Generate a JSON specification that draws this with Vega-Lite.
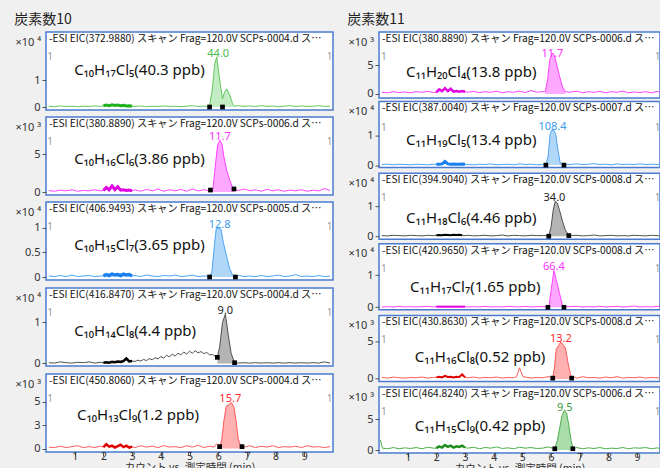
{
"$schema": "https://vega.github.io/schema/vega-lite/v6.json",
"padding": {"left": 14, "top": 13, "right": 0, "bottom": 0},
"background": "#f0f0f0",
"datasets": {
"tr": [
{"p":1,"t":0.1,"v":0.03},{"p":1,"t":0.3,"v":0.01},{"p":1,"t":0.5,"v":0.04},{"p":1,"t":0.7,"v":0.02},{"p":1,"t":0.9,"v":0.03},{"p":1,"t":1.1,"v":0.01},{"p":1,"t":1.3,"v":0.03},{"p":1,"t":1.5,"v":0.02},{"p":1,"t":1.7,"v":0.04},{"p":1,"t":1.9,"v":0.02},{"p":1,"t":2.0,"v":0.05},{"p":1,"t":2.1,"v":0.07},{"p":1,"t":2.2,"v":0.05},{"p":1,"t":2.3,"v":0.08},{"p":1,"t":2.4,"v":0.06},{"p":1,"t":2.5,"v":0.07},{"p":1,"t":2.6,"v":0.05},{"p":1,"t":2.7,"v":0.06},{"p":1,"t":2.8,"v":0.04},{"p":1,"t":2.9,"v":0.05},{"p":1,"t":3.0,"v":0.03},{"p":1,"t":3.1,"v":0.02},{"p":1,"t":3.3,"v":0.04},{"p":1,"t":3.5,"v":0.01},{"p":1,"t":3.7,"v":0.03},{"p":1,"t":3.9,"v":0.02},{"p":1,"t":4.1,"v":0.04},{"p":1,"t":4.3,"v":0.02},{"p":1,"t":4.5,"v":0.03},{"p":1,"t":4.7,"v":0.01},{"p":1,"t":4.9,"v":0.03},{"p":1,"t":5.1,"v":0.05},{"p":1,"t":5.3,"v":0.02},{"p":1,"t":5.5,"v":0.03},
{"p":1,"t":5.6,"v":0.02},{"p":1,"t":5.7,"v":0.04,"k":1},{"p":1,"t":5.8,"v":0.7,"k":1},{"p":1,"t":5.88,"v":1.6,"k":1},{"p":1,"t":5.95,"v":1.85,"k":1},{"p":1,"t":6.05,"v":1.0,"k":1},{"p":1,"t":6.15,"v":0.3,"k":1},{"p":1,"t":6.22,"v":0.55,"k":1},{"p":1,"t":6.3,"v":0.67,"k":1},{"p":1,"t":6.4,"v":0.45,"k":1},{"p":1,"t":6.5,"v":0.12,"k":1},{"p":1,"t":6.56,"v":0.03,"k":1},{"p":1,"t":6.7,"v":0.05},
{"p":1,"t":6.9,"v":0.02},{"p":1,"t":7.1,"v":0.04},{"p":1,"t":7.3,"v":0.02},{"p":1,"t":7.5,"v":0.05},{"p":1,"t":7.7,"v":0.02},{"p":1,"t":7.9,"v":0.04},{"p":1,"t":8.1,"v":0.01},{"p":1,"t":8.3,"v":0.03},{"p":1,"t":8.5,"v":0.05},{"p":1,"t":8.7,"v":0.02},{"p":1,"t":8.9,"v":0.04},{"p":1,"t":9.1,"v":0.02},{"p":1,"t":9.3,"v":0.03},{"p":1,"t":9.5,"v":0.05},{"p":1,"t":9.7,"v":0.02},{"p":1,"t":9.9,"v":0.03},

{"p":2,"t":0.1,"v":0.2},{"p":2,"t":0.3,"v":0.1},{"p":2,"t":0.5,"v":0.25},{"p":2,"t":0.7,"v":0.15},{"p":2,"t":0.9,"v":0.3},{"p":2,"t":1.1,"v":0.1},{"p":2,"t":1.3,"v":0.2},{"p":2,"t":1.5,"v":0.15},{"p":2,"t":1.7,"v":0.3},{"p":2,"t":1.9,"v":0.15},{"p":2,"t":2.0,"v":0.2},{"p":2,"t":2.1,"v":0.6},{"p":2,"t":2.2,"v":0.3},{"p":2,"t":2.3,"v":0.8},{"p":2,"t":2.4,"v":0.3},{"p":2,"t":2.5,"v":0.7},{"p":2,"t":2.6,"v":0.25},{"p":2,"t":2.7,"v":0.3},{"p":2,"t":2.8,"v":0.2},{"p":2,"t":2.9,"v":0.25},{"p":2,"t":3.0,"v":0.15},{"p":2,"t":3.1,"v":0.3},{"p":2,"t":3.3,"v":0.1},{"p":2,"t":3.5,"v":0.35},{"p":2,"t":3.7,"v":0.15},{"p":2,"t":3.9,"v":0.4},{"p":2,"t":4.1,"v":0.1},{"p":2,"t":4.3,"v":0.3},{"p":2,"t":4.5,"v":0.15},{"p":2,"t":4.7,"v":0.35},{"p":2,"t":4.9,"v":0.1},{"p":2,"t":5.1,"v":0.4},{"p":2,"t":5.3,"v":0.15},{"p":2,"t":5.5,"v":0.3},
{"p":2,"t":5.65,"v":0.2},{"p":2,"t":5.73,"v":0.2,"k":1},{"p":2,"t":5.82,"v":0.5,"k":1},{"p":2,"t":5.9,"v":3.5,"k":1},{"p":2,"t":5.98,"v":6.2,"k":1},{"p":2,"t":6.06,"v":6.8,"k":1},{"p":2,"t":6.13,"v":6.3,"k":1},{"p":2,"t":6.2,"v":4.6,"k":1},{"p":2,"t":6.3,"v":2.8,"k":1},{"p":2,"t":6.4,"v":1.6,"k":1},{"p":2,"t":6.48,"v":0.8,"k":1},{"p":2,"t":6.55,"v":0.35,"k":1},{"p":2,"t":6.7,"v":0.2},
{"p":2,"t":6.9,"v":0.4},{"p":2,"t":7.1,"v":0.15},{"p":2,"t":7.3,"v":0.3},{"p":2,"t":7.5,"v":0.1},{"p":2,"t":7.7,"v":0.35},{"p":2,"t":7.9,"v":0.15},{"p":2,"t":8.1,"v":0.3},{"p":2,"t":8.3,"v":0.1},{"p":2,"t":8.5,"v":0.25},{"p":2,"t":8.7,"v":0.15},{"p":2,"t":8.9,"v":0.3},{"p":2,"t":9.1,"v":0.1},{"p":2,"t":9.3,"v":0.25},{"p":2,"t":9.5,"v":0.15},{"p":2,"t":9.7,"v":0.45},{"p":2,"t":9.9,"v":0.2},

{"p":3,"t":0.1,"v":0.02},{"p":3,"t":0.3,"v":0.01},{"p":3,"t":0.5,"v":0.03},{"p":3,"t":0.7,"v":0.01},{"p":3,"t":0.9,"v":0.04},{"p":3,"t":1.1,"v":0.01},{"p":3,"t":1.3,"v":0.02},{"p":3,"t":1.5,"v":0.03},{"p":3,"t":1.7,"v":0.01},{"p":3,"t":1.9,"v":0.02},{"p":3,"t":2.0,"v":0.02},{"p":3,"t":2.1,"v":0.05},{"p":3,"t":2.2,"v":0.03},{"p":3,"t":2.3,"v":0.06},{"p":3,"t":2.4,"v":0.04},{"p":3,"t":2.5,"v":0.05},{"p":3,"t":2.6,"v":0.03},{"p":3,"t":2.7,"v":0.06},{"p":3,"t":2.8,"v":0.04},{"p":3,"t":2.9,"v":0.05},{"p":3,"t":3.0,"v":0.02},{"p":3,"t":3.1,"v":0.03},{"p":3,"t":3.3,"v":0.01},{"p":3,"t":3.5,"v":0.04},{"p":3,"t":3.7,"v":0.02},{"p":3,"t":3.9,"v":0.01},{"p":3,"t":4.1,"v":0.03},{"p":3,"t":4.3,"v":0.02},{"p":3,"t":4.5,"v":0.04},{"p":3,"t":4.7,"v":0.01},{"p":3,"t":4.9,"v":0.02},{"p":3,"t":5.1,"v":0.04},{"p":3,"t":5.3,"v":0.01},{"p":3,"t":5.5,"v":0.02},
{"p":3,"t":5.62,"v":0.02},{"p":3,"t":5.7,"v":0.02,"k":1},{"p":3,"t":5.78,"v":0.1,"k":1},{"p":3,"t":5.86,"v":0.6,"k":1},{"p":3,"t":5.93,"v":0.98,"k":1},{"p":3,"t":6.0,"v":1.0,"k":1},{"p":3,"t":6.1,"v":0.97,"k":1},{"p":3,"t":6.18,"v":0.7,"k":1},{"p":3,"t":6.28,"v":0.45,"k":1},{"p":3,"t":6.4,"v":0.17,"k":1},{"p":3,"t":6.5,"v":0.04,"k":1},{"p":3,"t":6.6,"v":0.02,"k":1},{"p":3,"t":6.75,"v":0.03},
{"p":3,"t":6.9,"v":0.01},{"p":3,"t":7.1,"v":0.02},{"p":3,"t":7.3,"v":0.01},{"p":3,"t":7.5,"v":0.03},{"p":3,"t":7.7,"v":0.01},{"p":3,"t":7.9,"v":0.02},{"p":3,"t":8.1,"v":0.04},{"p":3,"t":8.3,"v":0.01},{"p":3,"t":8.5,"v":0.02},{"p":3,"t":8.7,"v":0.05},{"p":3,"t":8.9,"v":0.01},{"p":3,"t":9.1,"v":0.02},{"p":3,"t":9.3,"v":0.01},{"p":3,"t":9.5,"v":0.03},{"p":3,"t":9.7,"v":0.01},{"p":3,"t":9.9,"v":0.02},

{"p":4,"t":0.1,"v":0.02},{"p":4,"t":0.3,"v":0.01},{"p":4,"t":0.5,"v":0.04},{"p":4,"t":0.7,"v":0.02},{"p":4,"t":0.9,"v":0.01},{"p":4,"t":1.1,"v":0.03},{"p":4,"t":1.3,"v":0.02},{"p":4,"t":1.5,"v":0.04},{"p":4,"t":1.7,"v":0.01},{"p":4,"t":1.9,"v":0.03},{"p":4,"t":2.0,"v":0.02},{"p":4,"t":2.1,"v":0.03},{"p":4,"t":2.2,"v":0.02},{"p":4,"t":2.3,"v":0.04},{"p":4,"t":2.4,"v":0.03},{"p":4,"t":2.5,"v":0.05},{"p":4,"t":2.6,"v":0.04},{"p":4,"t":2.7,"v":0.06},{"p":4,"t":2.8,"v":0.12},{"p":4,"t":2.9,"v":0.05},{"p":4,"t":3.0,"v":0.06},
{"p":4,"t":3.1,"v":0.05},{"p":4,"t":3.2,"v":0.08},{"p":4,"t":3.3,"v":0.06},{"p":4,"t":3.4,"v":0.1},{"p":4,"t":3.5,"v":0.07},{"p":4,"t":3.6,"v":0.12},{"p":4,"t":3.7,"v":0.09},{"p":4,"t":3.8,"v":0.14},{"p":4,"t":3.9,"v":0.11},{"p":4,"t":4.0,"v":0.17},{"p":4,"t":4.1,"v":0.13},{"p":4,"t":4.2,"v":0.2},{"p":4,"t":4.3,"v":0.16},{"p":4,"t":4.4,"v":0.23},{"p":4,"t":4.5,"v":0.18},{"p":4,"t":4.6,"v":0.25},{"p":4,"t":4.7,"v":0.21},{"p":4,"t":4.8,"v":0.28},{"p":4,"t":4.9,"v":0.23},{"p":4,"t":5.0,"v":0.3},{"p":4,"t":5.1,"v":0.25},{"p":4,"t":5.2,"v":0.31},{"p":4,"t":5.3,"v":0.26},{"p":4,"t":5.4,"v":0.29},{"p":4,"t":5.5,"v":0.24},{"p":4,"t":5.6,"v":0.27},{"p":4,"t":5.7,"v":0.21},{"p":4,"t":5.8,"v":0.22},{"p":4,"t":5.9,"v":0.17},
{"p":4,"t":5.97,"v":0.15,"k":1},{"p":4,"t":6.05,"v":0.4,"k":1},{"p":4,"t":6.15,"v":1.0,"k":1},{"p":4,"t":6.25,"v":1.2,"k":1},{"p":4,"t":6.35,"v":0.7,"k":1},{"p":4,"t":6.45,"v":0.25,"k":1},{"p":4,"t":6.57,"v":0.02,"k":1},{"p":4,"t":6.7,"v":0.01},
{"p":4,"t":6.9,"v":0.02},{"p":4,"t":7.1,"v":0.01},{"p":4,"t":7.3,"v":0.02},{"p":4,"t":7.5,"v":0.01},{"p":4,"t":7.7,"v":0.02},{"p":4,"t":7.9,"v":0.01},{"p":4,"t":8.1,"v":0.02},{"p":4,"t":8.3,"v":0.01},{"p":4,"t":8.5,"v":0.02},{"p":4,"t":8.7,"v":0.01},{"p":4,"t":8.9,"v":0.02},{"p":4,"t":9.1,"v":0.01},{"p":4,"t":9.3,"v":0.02},{"p":4,"t":9.5,"v":0.01},{"p":4,"t":9.7,"v":0.04},{"p":4,"t":9.9,"v":0.01},

{"p":5,"t":0.1,"v":0.15},{"p":5,"t":0.3,"v":0.1},{"p":5,"t":0.5,"v":0.25},{"p":5,"t":0.7,"v":0.1},{"p":5,"t":0.9,"v":0.2},{"p":5,"t":1.1,"v":0.3},{"p":5,"t":1.3,"v":0.1},{"p":5,"t":1.5,"v":0.2},{"p":5,"t":1.7,"v":0.1},{"p":5,"t":1.9,"v":0.25},{"p":5,"t":2.0,"v":0.15},{"p":5,"t":2.1,"v":0.45},{"p":5,"t":2.2,"v":0.2},{"p":5,"t":2.3,"v":0.3},{"p":5,"t":2.4,"v":0.1},{"p":5,"t":2.5,"v":0.25},{"p":5,"t":2.6,"v":0.4},{"p":5,"t":2.7,"v":0.15},{"p":5,"t":2.8,"v":0.3},{"p":5,"t":2.9,"v":0.1},{"p":5,"t":3.0,"v":0.2},{"p":5,"t":3.1,"v":0.1},{"p":5,"t":3.3,"v":0.3},{"p":5,"t":3.5,"v":0.15},{"p":5,"t":3.7,"v":0.25},{"p":5,"t":3.9,"v":0.1},{"p":5,"t":4.1,"v":0.3},{"p":5,"t":4.3,"v":0.15},{"p":5,"t":4.5,"v":0.2},{"p":5,"t":4.7,"v":0.1},{"p":5,"t":4.9,"v":0.3},{"p":5,"t":5.1,"v":0.15},{"p":5,"t":5.3,"v":0.35},{"p":5,"t":5.5,"v":0.1},
{"p":5,"t":5.7,"v":0.25},{"p":5,"t":5.85,"v":0.15},{"p":5,"t":5.95,"v":0.5},{"p":5,"t":6.05,"v":0.2,"k":1},{"p":5,"t":6.12,"v":0.8,"k":1},{"p":5,"t":6.2,"v":3.0,"k":1},{"p":5,"t":6.28,"v":4.5,"k":1},{"p":5,"t":6.38,"v":4.7,"k":1},{"p":5,"t":6.46,"v":4.9,"k":1},{"p":5,"t":6.55,"v":4.4,"k":1},{"p":5,"t":6.62,"v":3.0,"k":1},{"p":5,"t":6.7,"v":1.0,"k":1},{"p":5,"t":6.78,"v":0.3,"k":1},{"p":5,"t":6.83,"v":0.2,"k":1},
{"p":5,"t":6.9,"v":0.15},{"p":5,"t":7.1,"v":0.3},{"p":5,"t":7.3,"v":0.1},{"p":5,"t":7.5,"v":0.25},{"p":5,"t":7.7,"v":0.15},{"p":5,"t":7.9,"v":0.3},{"p":5,"t":8.1,"v":0.1},{"p":5,"t":8.3,"v":0.2},{"p":5,"t":8.5,"v":0.15},{"p":5,"t":8.7,"v":0.25},{"p":5,"t":8.9,"v":0.1},{"p":5,"t":9.1,"v":0.3},{"p":5,"t":9.3,"v":0.15},{"p":5,"t":9.5,"v":0.2},{"p":5,"t":9.7,"v":0.1},{"p":5,"t":9.9,"v":0.2},

{"p":6,"t":0.1,"v":0.3},{"p":6,"t":0.3,"v":0.2},{"p":6,"t":0.5,"v":0.4},{"p":6,"t":0.7,"v":0.25},{"p":6,"t":0.9,"v":0.35},{"p":6,"t":1.1,"v":0.2},{"p":6,"t":1.3,"v":0.4},{"p":6,"t":1.5,"v":0.3},{"p":6,"t":1.7,"v":0.45},{"p":6,"t":1.9,"v":0.25},{"p":6,"t":2.0,"v":0.3},{"p":6,"t":2.1,"v":0.8},{"p":6,"t":2.2,"v":0.5},{"p":6,"t":2.3,"v":1.0},{"p":6,"t":2.4,"v":0.5},{"p":6,"t":2.5,"v":0.9},{"p":6,"t":2.6,"v":0.4},{"p":6,"t":2.7,"v":0.5},{"p":6,"t":2.8,"v":0.4},{"p":6,"t":2.9,"v":0.5},{"p":6,"t":3.0,"v":0.4},{"p":6,"t":3.1,"v":0.3},{"p":6,"t":3.3,"v":0.45},{"p":6,"t":3.5,"v":0.25},{"p":6,"t":3.7,"v":0.4},{"p":6,"t":3.9,"v":0.3},{"p":6,"t":4.1,"v":0.5},{"p":6,"t":4.3,"v":0.2},{"p":6,"t":4.5,"v":0.4},{"p":6,"t":4.7,"v":0.3},{"p":6,"t":4.9,"v":0.5},{"p":6,"t":5.1,"v":0.25},{"p":6,"t":5.3,"v":0.6},{"p":6,"t":5.5,"v":0.3},
{"p":6,"t":5.65,"v":0.4},{"p":6,"t":5.8,"v":0.4,"k":1},{"p":6,"t":5.88,"v":2.5,"k":1},{"p":6,"t":5.96,"v":6.0,"k":1},{"p":6,"t":6.05,"v":7.1,"k":1},{"p":6,"t":6.12,"v":6.6,"k":1},{"p":6,"t":6.2,"v":5.0,"k":1},{"p":6,"t":6.3,"v":3.0,"k":1},{"p":6,"t":6.4,"v":1.2,"k":1},{"p":6,"t":6.5,"v":0.4,"k":1},{"p":6,"t":6.65,"v":0.3},
{"p":6,"t":6.9,"v":0.5},{"p":6,"t":7.1,"v":0.2},{"p":6,"t":7.3,"v":0.4},{"p":6,"t":7.5,"v":0.3},{"p":6,"t":7.7,"v":0.45},{"p":6,"t":7.9,"v":0.2},{"p":6,"t":8.1,"v":0.4},{"p":6,"t":8.3,"v":0.3},{"p":6,"t":8.5,"v":0.5},{"p":6,"t":8.7,"v":0.2},{"p":6,"t":8.9,"v":0.35},{"p":6,"t":9.1,"v":0.25},{"p":6,"t":9.3,"v":0.4},{"p":6,"t":9.5,"v":0.2},{"p":6,"t":9.7,"v":0.45},{"p":6,"t":9.8,"v":0.3},

{"p":7,"t":0.1,"v":0.02},{"p":7,"t":0.3,"v":0.03},{"p":7,"t":0.5,"v":0.01},{"p":7,"t":0.7,"v":0.03},{"p":7,"t":0.9,"v":0.02},{"p":7,"t":1.1,"v":0.01},{"p":7,"t":1.3,"v":0.03},{"p":7,"t":1.5,"v":0.02},{"p":7,"t":1.7,"v":0.01},{"p":7,"t":1.9,"v":0.03},{"p":7,"t":2.0,"v":0.03},{"p":7,"t":2.1,"v":0.03},{"p":7,"t":2.2,"v":0.04},{"p":7,"t":2.3,"v":0.12},{"p":7,"t":2.4,"v":0.04},{"p":7,"t":2.5,"v":0.03},{"p":7,"t":2.6,"v":0.04},{"p":7,"t":2.7,"v":0.03},{"p":7,"t":2.8,"v":0.03},{"p":7,"t":2.9,"v":0.04},{"p":7,"t":3.0,"v":0.03},{"p":7,"t":3.1,"v":0.02},{"p":7,"t":3.3,"v":0.01},{"p":7,"t":3.5,"v":0.03},{"p":7,"t":3.7,"v":0.02},{"p":7,"t":3.9,"v":0.04},{"p":7,"t":4.1,"v":0.01},{"p":7,"t":4.3,"v":0.02},{"p":7,"t":4.5,"v":0.03},{"p":7,"t":4.7,"v":0.01},{"p":7,"t":4.9,"v":0.04},{"p":7,"t":5.1,"v":0.02},{"p":7,"t":5.3,"v":0.03},{"p":7,"t":5.5,"v":0.01},
{"p":7,"t":5.7,"v":0.02},{"p":7,"t":5.82,"v":0.03,"k":1},{"p":7,"t":5.9,"v":0.3,"k":1},{"p":7,"t":5.97,"v":1.05,"k":1},{"p":7,"t":6.03,"v":1.17,"k":1},{"p":7,"t":6.1,"v":1.15,"k":1},{"p":7,"t":6.16,"v":1.05,"k":1},{"p":7,"t":6.24,"v":0.5,"k":1},{"p":7,"t":6.32,"v":0.08,"k":1},{"p":7,"t":6.45,"v":0.03,"k":1},{"p":7,"t":6.6,"v":0.02},
{"p":7,"t":6.9,"v":0.04},{"p":7,"t":7.1,"v":0.02},{"p":7,"t":7.3,"v":0.03},{"p":7,"t":7.5,"v":0.05},{"p":7,"t":7.7,"v":0.02},{"p":7,"t":7.9,"v":0.03},{"p":7,"t":8.1,"v":0.01},{"p":7,"t":8.3,"v":0.04},{"p":7,"t":8.5,"v":0.02},{"p":7,"t":8.7,"v":0.03},{"p":7,"t":8.9,"v":0.02},{"p":7,"t":9.1,"v":0.04},{"p":7,"t":9.3,"v":0.02},{"p":7,"t":9.5,"v":0.03},{"p":7,"t":9.7,"v":0.02},{"p":7,"t":9.8,"v":0.03},

{"p":8,"t":0.1,"v":0.02},{"p":8,"t":0.3,"v":0.01},{"p":8,"t":0.5,"v":0.03},{"p":8,"t":0.7,"v":0.02},{"p":8,"t":0.9,"v":0.01},{"p":8,"t":1.1,"v":0.03},{"p":8,"t":1.3,"v":0.02},{"p":8,"t":1.5,"v":0.01},{"p":8,"t":1.7,"v":0.03},{"p":8,"t":1.9,"v":0.02},{"p":8,"t":2.0,"v":0.03},{"p":8,"t":2.1,"v":0.04},{"p":8,"t":2.2,"v":0.03},{"p":8,"t":2.3,"v":0.05},{"p":8,"t":2.4,"v":0.04},{"p":8,"t":2.5,"v":0.03},{"p":8,"t":2.6,"v":0.05},{"p":8,"t":2.7,"v":0.04},{"p":8,"t":2.8,"v":0.05},{"p":8,"t":2.9,"v":0.03},{"p":8,"t":3.0,"v":0.02},{"p":8,"t":3.1,"v":0.03},{"p":8,"t":3.3,"v":0.01},{"p":8,"t":3.5,"v":0.02},{"p":8,"t":3.7,"v":0.03},{"p":8,"t":3.9,"v":0.01},{"p":8,"t":4.1,"v":0.02},{"p":8,"t":4.3,"v":0.04},{"p":8,"t":4.5,"v":0.01},{"p":8,"t":4.7,"v":0.03},{"p":8,"t":4.9,"v":0.02},{"p":8,"t":5.1,"v":0.01},{"p":8,"t":5.3,"v":0.03},{"p":8,"t":5.5,"v":0.02},
{"p":8,"t":5.7,"v":0.02},{"p":8,"t":5.92,"v":0.02,"k":1},{"p":8,"t":6.0,"v":0.3,"k":1},{"p":8,"t":6.08,"v":0.9,"k":1},{"p":8,"t":6.15,"v":1.17,"k":1},{"p":8,"t":6.22,"v":1.1,"k":1},{"p":8,"t":6.3,"v":0.85,"k":1},{"p":8,"t":6.4,"v":0.5,"k":1},{"p":8,"t":6.5,"v":0.2,"k":1},{"p":8,"t":6.62,"v":0.03,"k":1},{"p":8,"t":6.75,"v":0.02},
{"p":8,"t":6.9,"v":0.03},{"p":8,"t":7.1,"v":0.01},{"p":8,"t":7.3,"v":0.02},{"p":8,"t":7.5,"v":0.04},{"p":8,"t":7.7,"v":0.01},{"p":8,"t":7.9,"v":0.02},{"p":8,"t":8.1,"v":0.03},{"p":8,"t":8.3,"v":0.01},{"p":8,"t":8.5,"v":0.02},{"p":8,"t":8.7,"v":0.01},{"p":8,"t":8.9,"v":0.03},{"p":8,"t":9.1,"v":0.02},{"p":8,"t":9.3,"v":0.01},{"p":8,"t":9.5,"v":0.03},{"p":8,"t":9.7,"v":0.02},{"p":8,"t":9.8,"v":0.01},

{"p":9,"t":0.1,"v":0.01},{"p":9,"t":0.3,"v":0.02},{"p":9,"t":0.5,"v":0.01},{"p":9,"t":0.7,"v":0.03},{"p":9,"t":0.9,"v":0.01},{"p":9,"t":1.1,"v":0.02},{"p":9,"t":1.3,"v":0.01},{"p":9,"t":1.5,"v":0.02},{"p":9,"t":1.7,"v":0.03},{"p":9,"t":1.9,"v":0.01},{"p":9,"t":2.0,"v":0.02},{"p":9,"t":2.1,"v":0.02},{"p":9,"t":2.2,"v":0.02},{"p":9,"t":2.3,"v":0.02},{"p":9,"t":2.4,"v":0.02},{"p":9,"t":2.5,"v":0.02},{"p":9,"t":2.6,"v":0.02},{"p":9,"t":2.7,"v":0.02},{"p":9,"t":2.8,"v":0.02},{"p":9,"t":2.9,"v":0.02},{"p":9,"t":3.0,"v":0.02},{"p":9,"t":3.1,"v":0.01},{"p":9,"t":3.3,"v":0.02},{"p":9,"t":3.5,"v":0.01},{"p":9,"t":3.7,"v":0.03},{"p":9,"t":3.9,"v":0.01},{"p":9,"t":4.1,"v":0.02},{"p":9,"t":4.3,"v":0.01},{"p":9,"t":4.5,"v":0.03},{"p":9,"t":4.7,"v":0.02},{"p":9,"t":4.9,"v":0.01},{"p":9,"t":5.1,"v":0.03},{"p":9,"t":5.3,"v":0.01},{"p":9,"t":5.5,"v":0.02},
{"p":9,"t":5.7,"v":0.02},{"p":9,"t":5.89,"v":0.02,"k":1},{"p":9,"t":5.93,"v":0.05,"k":1},{"p":9,"t":6.1,"v":1.15,"k":1},{"p":9,"t":6.4,"v":0.05,"k":1},{"p":9,"t":6.45,"v":0.02,"k":1},{"p":9,"t":6.6,"v":0.02},
{"p":9,"t":6.9,"v":0.03},{"p":9,"t":7.1,"v":0.01},{"p":9,"t":7.3,"v":0.02},{"p":9,"t":7.5,"v":0.01},{"p":9,"t":7.7,"v":0.03},{"p":9,"t":7.9,"v":0.01},{"p":9,"t":8.1,"v":0.02},{"p":9,"t":8.3,"v":0.03},{"p":9,"t":8.5,"v":0.01},{"p":9,"t":8.7,"v":0.02},{"p":9,"t":8.9,"v":0.04},{"p":9,"t":9.1,"v":0.01},{"p":9,"t":9.3,"v":0.02},{"p":9,"t":9.5,"v":0.01},{"p":9,"t":9.7,"v":0.03},{"p":9,"t":9.8,"v":0.02},

{"p":10,"t":0.1,"v":0.2},{"p":10,"t":0.3,"v":0.1},{"p":10,"t":0.5,"v":0.25},{"p":10,"t":0.7,"v":0.15},{"p":10,"t":0.9,"v":0.1},{"p":10,"t":1.1,"v":0.2},{"p":10,"t":1.3,"v":0.15},{"p":10,"t":1.5,"v":0.25},{"p":10,"t":1.7,"v":0.1},{"p":10,"t":1.9,"v":0.2},{"p":10,"t":2.0,"v":0.2},{"p":10,"t":2.1,"v":0.3},{"p":10,"t":2.2,"v":0.2},{"p":10,"t":2.3,"v":0.4},{"p":10,"t":2.4,"v":0.25},{"p":10,"t":2.5,"v":0.3},{"p":10,"t":2.6,"v":0.2},{"p":10,"t":2.7,"v":0.3},{"p":10,"t":2.8,"v":0.25},{"p":10,"t":2.9,"v":0.6},{"p":10,"t":3.0,"v":0.2},{"p":10,"t":3.1,"v":0.15},{"p":10,"t":3.3,"v":0.25},{"p":10,"t":3.5,"v":0.1},{"p":10,"t":3.7,"v":0.2},{"p":10,"t":3.9,"v":0.15},{"p":10,"t":4.1,"v":0.25},{"p":10,"t":4.3,"v":0.1},{"p":10,"t":4.5,"v":0.2},{"p":10,"t":4.7,"v":0.15},{"p":10,"t":4.8,"v":0.3},{"p":10,"t":4.86,"v":1.0},{"p":10,"t":4.9,"v":1.5},{"p":10,"t":4.95,"v":1.0},{"p":10,"t":5.02,"v":0.3},{"p":10,"t":5.1,"v":0.25},{"p":10,"t":5.3,"v":0.1},{"p":10,"t":5.5,"v":0.2},
{"p":10,"t":5.7,"v":0.15},{"p":10,"t":5.9,"v":0.3},{"p":10,"t":6.06,"v":0.2,"k":1},{"p":10,"t":6.12,"v":1.5,"k":1},{"p":10,"t":6.18,"v":4.0,"k":1},{"p":10,"t":6.28,"v":4.6,"k":1},{"p":10,"t":6.34,"v":5.0,"k":1},{"p":10,"t":6.42,"v":4.6,"k":1},{"p":10,"t":6.5,"v":4.2,"k":1},{"p":10,"t":6.6,"v":2.0,"k":1},{"p":10,"t":6.68,"v":0.6,"k":1},{"p":10,"t":6.72,"v":0.2,"k":1},{"p":10,"t":6.8,"v":0.25},
{"p":10,"t":6.9,"v":0.1},{"p":10,"t":7.1,"v":0.3},{"p":10,"t":7.3,"v":0.15},{"p":10,"t":7.5,"v":0.2},{"p":10,"t":7.7,"v":0.1},{"p":10,"t":7.9,"v":0.25},{"p":10,"t":8.1,"v":0.15},{"p":10,"t":8.3,"v":0.3},{"p":10,"t":8.5,"v":0.1},{"p":10,"t":8.7,"v":0.2},{"p":10,"t":8.9,"v":0.15},{"p":10,"t":9.1,"v":0.25},{"p":10,"t":9.3,"v":0.1},{"p":10,"t":9.5,"v":0.2},{"p":10,"t":9.7,"v":0.15},{"p":10,"t":9.8,"v":0.1},

{"p":11,"t":0.05,"v":1.6},{"p":11,"t":0.12,"v":0.3},{"p":11,"t":0.3,"v":0.2},{"p":11,"t":0.5,"v":0.4},{"p":11,"t":0.7,"v":0.2},{"p":11,"t":0.9,"v":0.35},{"p":11,"t":1.1,"v":0.25},{"p":11,"t":1.3,"v":0.4},{"p":11,"t":1.5,"v":0.2},{"p":11,"t":1.7,"v":0.45},{"p":11,"t":1.9,"v":0.3},{"p":11,"t":2.0,"v":0.3},{"p":11,"t":2.1,"v":0.6},{"p":11,"t":2.2,"v":0.4},{"p":11,"t":2.3,"v":0.8},{"p":11,"t":2.4,"v":0.5},{"p":11,"t":2.5,"v":0.7},{"p":11,"t":2.6,"v":0.4},{"p":11,"t":2.7,"v":0.6},{"p":11,"t":2.8,"v":0.5},{"p":11,"t":2.9,"v":0.7},{"p":11,"t":3.0,"v":0.4},{"p":11,"t":3.1,"v":0.3},{"p":11,"t":3.3,"v":0.45},{"p":11,"t":3.5,"v":0.2},{"p":11,"t":3.7,"v":0.4},{"p":11,"t":3.9,"v":0.3},{"p":11,"t":4.1,"v":0.5},{"p":11,"t":4.3,"v":0.25},{"p":11,"t":4.5,"v":0.35},{"p":11,"t":4.7,"v":0.2},{"p":11,"t":4.9,"v":0.45},{"p":11,"t":5.1,"v":0.3},{"p":11,"t":5.3,"v":0.4},{"p":11,"t":5.5,"v":0.25},
{"p":11,"t":5.7,"v":0.3},{"p":11,"t":5.9,"v":0.5},{"p":11,"t":6.05,"v":0.3},{"p":11,"t":6.13,"v":0.3,"k":1},{"p":11,"t":6.22,"v":1.5,"k":1},{"p":11,"t":6.3,"v":3.5,"k":1},{"p":11,"t":6.38,"v":5.5,"k":1},{"p":11,"t":6.46,"v":6.3,"k":1},{"p":11,"t":6.54,"v":6.0,"k":1},{"p":11,"t":6.62,"v":4.0,"k":1},{"p":11,"t":6.7,"v":1.5,"k":1},{"p":11,"t":6.76,"v":0.3,"k":1},{"p":11,"t":6.85,"v":0.3},
{"p":11,"t":6.9,"v":0.4},{"p":11,"t":7.1,"v":0.2},{"p":11,"t":7.3,"v":0.35},{"p":11,"t":7.5,"v":0.25},{"p":11,"t":7.7,"v":0.4},{"p":11,"t":7.9,"v":0.2},{"p":11,"t":8.1,"v":0.3},{"p":11,"t":8.3,"v":0.25},{"p":11,"t":8.5,"v":0.4},{"p":11,"t":8.7,"v":0.2},{"p":11,"t":8.9,"v":0.35},{"p":11,"t":9.1,"v":0.3},{"p":11,"t":9.3,"v":0.4},{"p":11,"t":9.5,"v":0.2},{"p":11,"t":9.7,"v":0.35},{"p":11,"t":9.8,"v":0.25}
],
"an": [
{"p":1,"c":"m","t":5.7,"v":0},{"p":1,"c":"m","t":6.15,"v":0},{"p":1,"c":"pl","t":6.0,"v":1.85,"lab":"44.0"},{"p":1,"c":"f","t":0.98,"v":1.37,"lab":"C₁₀H₁₇Cl₅(40.3 ppb)"},{"p":1,"c":"s","t":0.14,"v":1.85,"lab":"1"},{"p":1,"c":"s","t":9.88,"v":1.85,"lab":"1"},
{"p":2,"c":"m","t":5.73,"v":0.26},{"p":2,"c":"m","t":6.55,"v":0.4},{"p":2,"c":"pl","t":6.06,"v":6.8,"lab":"11.7"},{"p":2,"c":"f","t":0.98,"v":4.34,"lab":"C₁₀H₁₆Cl₆(3.86 ppb)"},{"p":2,"c":"s","t":0.14,"v":6.58,"lab":"1"},{"p":2,"c":"s","t":9.88,"v":6.58,"lab":"1"},
{"p":3,"c":"m","t":5.7,"v":0},{"p":3,"c":"m","t":6.6,"v":0},{"p":3,"c":"pl","t":6.05,"v":1.0,"lab":"12.8"},{"p":3,"c":"f","t":0.98,"v":0.65,"lab":"C₁₀H₁₅Cl₇(3.65 ppb)"},{"p":3,"c":"s","t":0.14,"v":1.02,"lab":"1"},{"p":3,"c":"s","t":9.88,"v":1.02,"lab":"1"},
{"p":4,"c":"m","t":5.97,"v":0.15},{"p":4,"c":"m","t":6.57,"v":0.02},{"p":4,"c":"pl","t":6.25,"v":1.2,"lab":"9.0"},{"p":4,"c":"f","t":0.98,"v":0.8,"lab":"C₁₀H₁₄Cl₈(4.4 ppb)"},{"p":4,"c":"s","t":0.14,"v":1.23,"lab":"1"},{"p":4,"c":"s","t":9.88,"v":1.23,"lab":"1"},
{"p":5,"c":"m","t":6.05,"v":0.2},{"p":5,"c":"m","t":6.83,"v":0.2},{"p":5,"c":"pl","t":6.42,"v":4.9,"lab":"15.7"},{"p":5,"c":"f","t":1.08,"v":3.6,"lab":"C₁₀H₁₃Cl₉(1.2 ppb)"},{"p":5,"c":"s","t":0.14,"v":5.27,"lab":"1"},{"p":5,"c":"s","t":9.88,"v":5.27,"lab":"1"},
{"p":6,"c":"pl","t":6.05,"v":7.1,"lab":"11.7"},{"p":6,"c":"f","t":0.94,"v":3.8,"lab":"C₁₁H₂₀Cl₄(13.8 ppb)"},{"p":6,"c":"s","t":0.17,"v":6.38,"lab":"1"},{"p":6,"c":"s","t":9.72,"v":6.38,"lab":"1"},
{"p":7,"c":"m","t":5.82,"v":0},{"p":7,"c":"m","t":6.45,"v":0},{"p":7,"c":"pl","t":6.05,"v":1.17,"lab":"108.4"},{"p":7,"c":"f","t":0.94,"v":0.83,"lab":"C₁₁H₁₉Cl₅(13.4 ppb)"},{"p":7,"c":"s","t":0.17,"v":1.25,"lab":"1"},{"p":7,"c":"s","t":9.72,"v":1.25,"lab":"1"},
{"p":8,"c":"m","t":5.92,"v":0},{"p":8,"c":"m","t":6.62,"v":0.02},{"p":8,"c":"pl","t":6.12,"v":1.17,"lab":"34.0"},{"p":8,"c":"f","t":0.94,"v":0.6,"lab":"C₁₁H₁₈Cl₆(4.46 ppb)"},{"p":8,"c":"s","t":0.17,"v":1.27,"lab":"1"},{"p":8,"c":"s","t":9.72,"v":1.27,"lab":"1"},
{"p":9,"c":"m","t":5.89,"v":0},{"p":9,"c":"m","t":6.45,"v":0},{"p":9,"c":"pl","t":6.1,"v":1.15,"lab":"66.4"},{"p":9,"c":"f","t":1.08,"v":0.62,"lab":"C₁₁H₁₇Cl₇(1.65 ppb)"},{"p":9,"c":"s","t":0.17,"v":1.2,"lab":"1"},{"p":9,"c":"s","t":9.72,"v":1.2,"lab":"1"},
{"p":10,"c":"m","t":6.06,"v":0.1},{"p":10,"c":"m","t":6.72,"v":0.1},{"p":10,"c":"pl","t":6.34,"v":5.0,"lab":"13.2"},{"p":10,"c":"f","t":1.25,"v":3.0,"lab":"C₁₁H₁₆Cl₈(0.52 ppb)"},{"p":10,"c":"s","t":0.17,"v":5.2,"lab":"1"},{"p":10,"c":"s","t":9.72,"v":5.2,"lab":"1"},
{"p":11,"c":"m","t":6.13,"v":0.2},{"p":11,"c":"m","t":6.76,"v":0.2},{"p":11,"c":"pl","t":6.48,"v":6.3,"lab":"9.5"},{"p":11,"c":"f","t":1.25,"v":3.9,"lab":"C₁₁H₁₅Cl₉(0.42 ppb)"},{"p":11,"c":"s","t":0.17,"v":6.13,"lab":"1"},{"p":11,"c":"s","t":9.72,"v":6.13,"lab":"1"}
]
},
"spacing": 13,
"hconcat": [
{
"title": {"text": "炭素数10", "frame": "bounds", "offset": 4, "fontSize": 14, "dx": 0, "color": "#222222"},
"spacing": 3,
"vconcat": [
{"width": 287, "height": 78,
 "title": {"text": "-ESI EIC(372.9880) スキャン Frag=120.0V SCPs-0004.d ス…"},
 "encoding": {"x": {"field": "t", "type": "quantitative", "scale": {"domain": [0, 10]}, "axis": null},
  "y": {"field": "v", "type": "quantitative", "scale": {"domain": [-0.111, 2.78], "nice": false}, "axis": {"values": [0, 1], "format": "~g", "title": "×10 ⁴"}}},
 "layer": [
  {"data": {"name": "tr"}, "transform": [{"filter": "datum.p==1 && datum.k==1"}], "mark": {"type": "area", "color": "#c4ecc4"}, "encoding": {"y2": {"datum": 0}}},
  {"data": {"name": "tr"}, "transform": [{"filter": "datum.p==1"}], "mark": {"type": "line", "color": "#60c860", "strokeWidth": 1}},
  {"data": {"name": "tr"}, "transform": [{"filter": "datum.p==1 && datum.t>=2 && datum.t<=3"}], "mark": {"type": "line", "color": "#20b020", "strokeWidth": 3}},
  {"data": {"name": "an"}, "transform": [{"filter": "datum.p==1 && datum.c=='m'"}], "mark": {"type": "square", "color": "#000000", "size": 22, "opacity": 1}},
  {"data": {"name": "an"}, "transform": [{"filter": "datum.p==1 && datum.c=='pl'"}], "mark": {"type": "text", "color": "#4cbb4c", "fontSize": 11, "dy": -3, "font": "Noto Sans"}, "encoding": {"text": {"field": "lab"}}},
  {"data": {"name": "an"}, "transform": [{"filter": "datum.p==1 && datum.c=='f'"}], "mark": {"type": "text", "align": "left", "fontSize": 15, "font": "Noto Sans", "color": "#111111"}, "encoding": {"text": {"field": "lab"}}},
  {"data": {"name": "an"}, "transform": [{"filter": "datum.p==1 && datum.c=='s'"}], "mark": {"type": "text", "fontSize": 10, "color": "#999999", "font": "Noto Sans"}, "encoding": {"text": {"field": "lab"}}}
 ]},
{"width": 287, "height": 78,
 "title": {"text": "-ESI EIC(380.8890) スキャン Frag=120.0V SCPs-0006.d ス…"},
 "encoding": {"x": {"field": "t", "type": "quantitative", "scale": {"domain": [0, 10]}, "axis": null},
  "y": {"field": "v", "type": "quantitative", "scale": {"domain": [-0.39, 9.87], "nice": false}, "axis": {"values": [0, 5], "format": "~g", "title": "×10 ³"}}},
 "layer": [
  {"data": {"name": "tr"}, "transform": [{"filter": "datum.p==2 && datum.k==1"}], "mark": {"type": "area", "color": "#ffa8ff"}, "encoding": {"y2": {"datum": 0}}},
  {"data": {"name": "tr"}, "transform": [{"filter": "datum.p==2"}], "mark": {"type": "line", "color": "#ff40ff", "strokeWidth": 1}},
  {"data": {"name": "tr"}, "transform": [{"filter": "datum.p==2 && datum.t>=2 && datum.t<=3"}], "mark": {"type": "line", "color": "#e000e0", "strokeWidth": 3}},
  {"data": {"name": "an"}, "transform": [{"filter": "datum.p==2 && datum.c=='m'"}], "mark": {"type": "square", "color": "#000000", "size": 22, "opacity": 1}},
  {"data": {"name": "an"}, "transform": [{"filter": "datum.p==2 && datum.c=='pl'"}], "mark": {"type": "text", "color": "#ff30ff", "fontSize": 11, "dy": -3, "font": "Noto Sans"}, "encoding": {"text": {"field": "lab"}}},
  {"data": {"name": "an"}, "transform": [{"filter": "datum.p==2 && datum.c=='f'"}], "mark": {"type": "text", "align": "left", "fontSize": 15, "font": "Noto Sans", "color": "#111111"}, "encoding": {"text": {"field": "lab"}}},
  {"data": {"name": "an"}, "transform": [{"filter": "datum.p==2 && datum.c=='s'"}], "mark": {"type": "text", "fontSize": 10, "color": "#999999", "font": "Noto Sans"}, "encoding": {"text": {"field": "lab"}}}
 ]},
{"width": 287, "height": 78,
 "title": {"text": "-ESI EIC(406.9493) スキャン Frag=120.0V SCPs-0005.d ス…"},
 "encoding": {"x": {"field": "t", "type": "quantitative", "scale": {"domain": [0, 10]}, "axis": null},
  "y": {"field": "v", "type": "quantitative", "scale": {"domain": [-0.061, 1.53], "nice": false}, "axis": {"values": [0, 0.5, 1], "format": "~g", "title": "×10 ⁴"}}},
 "layer": [
  {"data": {"name": "tr"}, "transform": [{"filter": "datum.p==3 && datum.k==1"}], "mark": {"type": "area", "color": "#b0d6f8"}, "encoding": {"y2": {"datum": 0}}},
  {"data": {"name": "tr"}, "transform": [{"filter": "datum.p==3"}], "mark": {"type": "line", "color": "#4aa3f5", "strokeWidth": 1}},
  {"data": {"name": "tr"}, "transform": [{"filter": "datum.p==3 && datum.t>=2 && datum.t<=3"}], "mark": {"type": "line", "color": "#1a80f0", "strokeWidth": 3.5}},
  {"data": {"name": "an"}, "transform": [{"filter": "datum.p==3 && datum.c=='m'"}], "mark": {"type": "square", "color": "#000000", "size": 22, "opacity": 1}},
  {"data": {"name": "an"}, "transform": [{"filter": "datum.p==3 && datum.c=='pl'"}], "mark": {"type": "text", "color": "#3a9af0", "fontSize": 11, "dy": -3, "font": "Noto Sans"}, "encoding": {"text": {"field": "lab"}}},
  {"data": {"name": "an"}, "transform": [{"filter": "datum.p==3 && datum.c=='f'"}], "mark": {"type": "text", "align": "left", "fontSize": 15, "font": "Noto Sans", "color": "#111111"}, "encoding": {"text": {"field": "lab"}}},
  {"data": {"name": "an"}, "transform": [{"filter": "datum.p==3 && datum.c=='s'"}], "mark": {"type": "text", "fontSize": 10, "color": "#999999", "font": "Noto Sans"}, "encoding": {"text": {"field": "lab"}}}
 ]},
{"width": 287, "height": 78,
 "title": {"text": "-ESI EIC(416.8470) スキャン Frag=120.0V SCPs-0004.d ス…"},
 "encoding": {"x": {"field": "t", "type": "quantitative", "scale": {"domain": [0, 10]}, "axis": null},
  "y": {"field": "v", "type": "quantitative", "scale": {"domain": [-0.061, 1.84], "nice": false}, "axis": {"values": [0, 1], "format": "~g", "title": "×10 ⁴"}}},
 "layer": [
  {"data": {"name": "tr"}, "transform": [{"filter": "datum.p==4 && datum.k==1"}], "mark": {"type": "area", "color": "#b4b4b4"}, "encoding": {"y2": {"datum": 0}}},
  {"data": {"name": "tr"}, "transform": [{"filter": "datum.p==4"}], "mark": {"type": "line", "color": "#505050", "strokeWidth": 1}},
  {"data": {"name": "tr"}, "transform": [{"filter": "datum.p==4 && datum.t>=2 && datum.t<=3"}], "mark": {"type": "line", "color": "#000000", "strokeWidth": 2.5}},
  {"data": {"name": "an"}, "transform": [{"filter": "datum.p==4 && datum.c=='m'"}], "mark": {"type": "square", "color": "#000000", "size": 22, "opacity": 1}},
  {"data": {"name": "an"}, "transform": [{"filter": "datum.p==4 && datum.c=='pl'"}], "mark": {"type": "text", "color": "#222222", "fontSize": 11, "dy": -3, "font": "Noto Sans"}, "encoding": {"text": {"field": "lab"}}},
  {"data": {"name": "an"}, "transform": [{"filter": "datum.p==4 && datum.c=='f'"}], "mark": {"type": "text", "align": "left", "fontSize": 15, "font": "Noto Sans", "color": "#111111"}, "encoding": {"text": {"field": "lab"}}},
  {"data": {"name": "an"}, "transform": [{"filter": "datum.p==4 && datum.c=='s'"}], "mark": {"type": "text", "fontSize": 10, "color": "#999999", "font": "Noto Sans"}, "encoding": {"text": {"field": "lab"}}}
 ]},
{"width": 287, "height": 78,
 "title": {"text": "-ESI EIC(450.8060) スキャン Frag=120.0V SCPs-0004.d ス…"},
 "encoding": {"x": {"field": "t", "type": "quantitative", "scale": {"domain": [0, 10]}, "axis": {"values": [1, 2, 3, 4, 5, 6, 7, 8, 9], "title": "カウント vs. 測定時間 (min)"}},
  "y": {"field": "v", "type": "quantitative", "scale": {"domain": [-0.37, 7.93], "nice": false}, "axis": {"values": [0, 2.5, 5], "format": "~g", "title": "×10 ³"}}},
 "layer": [
  {"data": {"name": "tr"}, "transform": [{"filter": "datum.p==5 && datum.k==1"}], "mark": {"type": "area", "color": "#ffb0b0"}, "encoding": {"y2": {"datum": 0}}},
  {"data": {"name": "tr"}, "transform": [{"filter": "datum.p==5"}], "mark": {"type": "line", "color": "#ff5a5a", "strokeWidth": 1}},
  {"data": {"name": "tr"}, "transform": [{"filter": "datum.p==5 && datum.t>=2 && datum.t<=3"}], "mark": {"type": "line", "color": "#e00000", "strokeWidth": 2.5}},
  {"data": {"name": "an"}, "transform": [{"filter": "datum.p==5 && datum.c=='m'"}], "mark": {"type": "square", "color": "#000000", "size": 22, "opacity": 1}},
  {"data": {"name": "an"}, "transform": [{"filter": "datum.p==5 && datum.c=='pl'"}], "mark": {"type": "text", "color": "#ff2a2a", "fontSize": 11, "dy": -3, "font": "Noto Sans"}, "encoding": {"text": {"field": "lab"}}},
  {"data": {"name": "an"}, "transform": [{"filter": "datum.p==5 && datum.c=='f'"}], "mark": {"type": "text", "align": "left", "fontSize": 15, "font": "Noto Sans", "color": "#111111"}, "encoding": {"text": {"field": "lab"}}},
  {"data": {"name": "an"}, "transform": [{"filter": "datum.p==5 && datum.c=='s'"}], "mark": {"type": "text", "fontSize": 10, "color": "#999999", "font": "Noto Sans"}, "encoding": {"text": {"field": "lab"}}}
 ]}
]
},
{
"title": {"text": "炭素数11", "frame": "bounds", "offset": 4, "fontSize": 14, "dx": 0, "color": "#222222"},
"spacing": 0.6,
"vconcat": [
{"width": 281, "height": 66,
 "title": {"text": "-ESI EIC(380.8890) スキャン Frag=120.0V SCPs-0006.d ス…"},
 "encoding": {"x": {"field": "t", "type": "quantitative", "scale": {"domain": [0, 9.8]}, "axis": null},
  "y": {"field": "v", "type": "quantitative", "scale": {"domain": [-0.69, 10.69], "nice": false}, "axis": {"values": [0, 5], "format": "~g", "title": "×10 ³"}}},
 "layer": [
  {"data": {"name": "tr"}, "transform": [{"filter": "datum.p==6 && datum.k==1"}], "mark": {"type": "area", "color": "#ffa8ff"}, "encoding": {"y2": {"datum": 0}}},
  {"data": {"name": "tr"}, "transform": [{"filter": "datum.p==6"}], "mark": {"type": "line", "color": "#ff40ff", "strokeWidth": 1}},
  {"data": {"name": "tr"}, "transform": [{"filter": "datum.p==6 && datum.t>=2 && datum.t<=3"}], "mark": {"type": "line", "color": "#e000e0", "strokeWidth": 2.5}},
  {"data": {"name": "an"}, "transform": [{"filter": "datum.p==6 && datum.c=='pl'"}], "mark": {"type": "text", "color": "#ff30ff", "fontSize": 11, "dy": 1, "font": "Noto Sans"}, "encoding": {"text": {"field": "lab"}}},
  {"data": {"name": "an"}, "transform": [{"filter": "datum.p==6 && datum.c=='f'"}], "mark": {"type": "text", "align": "left", "fontSize": 15, "font": "Noto Sans", "color": "#111111"}, "encoding": {"text": {"field": "lab"}}},
  {"data": {"name": "an"}, "transform": [{"filter": "datum.p==6 && datum.c=='s'"}], "mark": {"type": "text", "fontSize": 10, "color": "#999999", "font": "Noto Sans"}, "encoding": {"text": {"field": "lab"}}}
 ]},
{"width": 281, "height": 66,
 "title": {"text": "-ESI EIC(387.0040) スキャン Frag=120.0V SCPs-0007.d ス…"},
 "encoding": {"x": {"field": "t", "type": "quantitative", "scale": {"domain": [0, 9.8]}, "axis": null},
  "y": {"field": "v", "type": "quantitative", "scale": {"domain": [-0.083, 2.12], "nice": false}, "axis": {"values": [0, 1], "format": "~g", "title": "×10 ⁴"}}},
 "layer": [
  {"data": {"name": "tr"}, "transform": [{"filter": "datum.p==7 && datum.k==1"}], "mark": {"type": "area", "color": "#b0d6f8"}, "encoding": {"y2": {"datum": 0}}},
  {"data": {"name": "tr"}, "transform": [{"filter": "datum.p==7"}], "mark": {"type": "line", "color": "#4aa3f5", "strokeWidth": 1}},
  {"data": {"name": "tr"}, "transform": [{"filter": "datum.p==7 && datum.t>=2 && datum.t<=3"}], "mark": {"type": "line", "color": "#1a80f0", "strokeWidth": 3}},
  {"data": {"name": "an"}, "transform": [{"filter": "datum.p==7 && datum.c=='m'"}], "mark": {"type": "square", "color": "#000000", "size": 22, "opacity": 1}},
  {"data": {"name": "an"}, "transform": [{"filter": "datum.p==7 && datum.c=='pl'"}], "mark": {"type": "text", "color": "#3a9af0", "fontSize": 11, "dy": -3, "font": "Noto Sans"}, "encoding": {"text": {"field": "lab"}}},
  {"data": {"name": "an"}, "transform": [{"filter": "datum.p==7 && datum.c=='f'"}], "mark": {"type": "text", "align": "left", "fontSize": 15, "font": "Noto Sans", "color": "#111111"}, "encoding": {"text": {"field": "lab"}}},
  {"data": {"name": "an"}, "transform": [{"filter": "datum.p==7 && datum.c=='s'"}], "mark": {"type": "text", "fontSize": 10, "color": "#999999", "font": "Noto Sans"}, "encoding": {"text": {"field": "lab"}}}
 ]},
{"width": 281, "height": 66,
 "title": {"text": "-ESI EIC(394.9040) スキャン Frag=120.0V SCPs-0008.d ス…"},
 "encoding": {"x": {"field": "t", "type": "quantitative", "scale": {"domain": [0, 9.8]}, "axis": null},
  "y": {"field": "v", "type": "quantitative", "scale": {"domain": [-0.1, 2.1], "nice": false}, "axis": {"values": [0, 1], "format": "~g", "title": "×10 ⁴"}}},
 "layer": [
  {"data": {"name": "tr"}, "transform": [{"filter": "datum.p==8 && datum.k==1"}], "mark": {"type": "area", "color": "#b4b4b4"}, "encoding": {"y2": {"datum": 0}}},
  {"data": {"name": "tr"}, "transform": [{"filter": "datum.p==8"}], "mark": {"type": "line", "color": "#505050", "strokeWidth": 1}},
  {"data": {"name": "tr"}, "transform": [{"filter": "datum.p==8 && datum.t>=2 && datum.t<=2.9"}], "mark": {"type": "line", "color": "#000000", "strokeWidth": 2}},
  {"data": {"name": "an"}, "transform": [{"filter": "datum.p==8 && datum.c=='m'"}], "mark": {"type": "square", "color": "#000000", "size": 22, "opacity": 1}},
  {"data": {"name": "an"}, "transform": [{"filter": "datum.p==8 && datum.c=='pl'"}], "mark": {"type": "text", "color": "#222222", "fontSize": 11, "dy": -3, "font": "Noto Sans"}, "encoding": {"text": {"field": "lab"}}},
  {"data": {"name": "an"}, "transform": [{"filter": "datum.p==8 && datum.c=='f'"}], "mark": {"type": "text", "align": "left", "fontSize": 15, "font": "Noto Sans", "color": "#111111"}, "encoding": {"text": {"field": "lab"}}},
  {"data": {"name": "an"}, "transform": [{"filter": "datum.p==8 && datum.c=='s'"}], "mark": {"type": "text", "fontSize": 10, "color": "#999999", "font": "Noto Sans"}, "encoding": {"text": {"field": "lab"}}}
 ]},
{"width": 281, "height": 66,
 "title": {"text": "-ESI EIC(420.9650) スキャン Frag=120.0V SCPs-0008.d ス…"},
 "encoding": {"x": {"field": "t", "type": "quantitative", "scale": {"domain": [0, 9.8]}, "axis": null},
  "y": {"field": "v", "type": "quantitative", "scale": {"domain": [-0.078, 1.98], "nice": false}, "axis": {"values": [0, 1], "format": "~g", "title": "×10 ⁴"}}},
 "layer": [
  {"data": {"name": "tr"}, "transform": [{"filter": "datum.p==9 && datum.k==1"}], "mark": {"type": "area", "color": "#ffa8ff"}, "encoding": {"y2": {"datum": 0}}},
  {"data": {"name": "tr"}, "transform": [{"filter": "datum.p==9"}], "mark": {"type": "line", "color": "#ff40ff", "strokeWidth": 1}},
  {"data": {"name": "tr"}, "transform": [{"filter": "datum.p==9 && datum.t>=2 && datum.t<=3"}], "mark": {"type": "line", "color": "#e000e0", "strokeWidth": 2}},
  {"data": {"name": "an"}, "transform": [{"filter": "datum.p==9 && datum.c=='m'"}], "mark": {"type": "square", "color": "#000000", "size": 22, "opacity": 1}},
  {"data": {"name": "an"}, "transform": [{"filter": "datum.p==9 && datum.c=='pl'"}], "mark": {"type": "text", "color": "#ff30ff", "fontSize": 11, "dy": -3, "font": "Noto Sans"}, "encoding": {"text": {"field": "lab"}}},
  {"data": {"name": "an"}, "transform": [{"filter": "datum.p==9 && datum.c=='f'"}], "mark": {"type": "text", "align": "left", "fontSize": 15, "font": "Noto Sans", "color": "#111111"}, "encoding": {"text": {"field": "lab"}}},
  {"data": {"name": "an"}, "transform": [{"filter": "datum.p==9 && datum.c=='s'"}], "mark": {"type": "text", "fontSize": 10, "color": "#999999", "font": "Noto Sans"}, "encoding": {"text": {"field": "lab"}}}
 ]},
{"width": 281, "height": 66,
 "title": {"text": "-ESI EIC(430.8630) スキャン Frag=120.0V SCPs-0008.d ス…"},
 "encoding": {"x": {"field": "t", "type": "quantitative", "scale": {"domain": [0, 9.8]}, "axis": null},
  "y": {"field": "v", "type": "quantitative", "scale": {"domain": [-0.34, 8.58], "nice": false}, "axis": {"values": [0, 5], "format": "~g", "title": "×10 ³"}}},
 "layer": [
  {"data": {"name": "tr"}, "transform": [{"filter": "datum.p==10 && datum.k==1"}], "mark": {"type": "area", "color": "#ffb0b0"}, "encoding": {"y2": {"datum": 0}}},
  {"data": {"name": "tr"}, "transform": [{"filter": "datum.p==10"}], "mark": {"type": "line", "color": "#ff5a5a", "strokeWidth": 1}},
  {"data": {"name": "tr"}, "transform": [{"filter": "datum.p==10 && datum.t>=2 && datum.t<=3"}], "mark": {"type": "line", "color": "#e00000", "strokeWidth": 2}},
  {"data": {"name": "an"}, "transform": [{"filter": "datum.p==10 && datum.c=='m'"}], "mark": {"type": "square", "color": "#000000", "size": 22, "opacity": 1}},
  {"data": {"name": "an"}, "transform": [{"filter": "datum.p==10 && datum.c=='pl'"}], "mark": {"type": "text", "color": "#ff2a2a", "fontSize": 11, "dy": -3, "font": "Noto Sans"}, "encoding": {"text": {"field": "lab"}}},
  {"data": {"name": "an"}, "transform": [{"filter": "datum.p==10 && datum.c=='f'"}], "mark": {"type": "text", "align": "left", "fontSize": 15, "font": "Noto Sans", "color": "#111111"}, "encoding": {"text": {"field": "lab"}}},
  {"data": {"name": "an"}, "transform": [{"filter": "datum.p==10 && datum.c=='s'"}], "mark": {"type": "text", "fontSize": 10, "color": "#999999", "font": "Noto Sans"}, "encoding": {"text": {"field": "lab"}}}
 ]},
{"width": 281, "height": 66,
 "title": {"text": "-ESI EIC(464.8240) スキャン Frag=120.0V SCPs-0006.d ス…"},
 "encoding": {"x": {"field": "t", "type": "quantitative", "scale": {"domain": [0, 9.8]}, "axis": {"values": [1, 2, 3, 4, 5, 6, 7, 8, 9], "title": "カウント vs. 測定時間 (min)"}},
  "y": {"field": "v", "type": "quantitative", "scale": {"domain": [-0.48, 10.16], "nice": false}, "axis": {"values": [0, 5], "format": "~g", "title": "×10 ³"}}},
 "layer": [
  {"data": {"name": "tr"}, "transform": [{"filter": "datum.p==11 && datum.k==1"}], "mark": {"type": "area", "color": "#aadcaa"}, "encoding": {"y2": {"datum": 0}}},
  {"data": {"name": "tr"}, "transform": [{"filter": "datum.p==11"}], "mark": {"type": "line", "color": "#4caf4c", "strokeWidth": 1}},
  {"data": {"name": "tr"}, "transform": [{"filter": "datum.p==11 && datum.t>=2 && datum.t<=3"}], "mark": {"type": "line", "color": "#1e8c1e", "strokeWidth": 2.5}},
  {"data": {"name": "an"}, "transform": [{"filter": "datum.p==11 && datum.c=='m'"}], "mark": {"type": "square", "color": "#000000", "size": 22, "opacity": 1}},
  {"data": {"name": "an"}, "transform": [{"filter": "datum.p==11 && datum.c=='pl'"}], "mark": {"type": "text", "color": "#3c9c3c", "fontSize": 11, "dy": -3, "font": "Noto Sans"}, "encoding": {"text": {"field": "lab"}}},
  {"data": {"name": "an"}, "transform": [{"filter": "datum.p==11 && datum.c=='f'"}], "mark": {"type": "text", "align": "left", "fontSize": 15, "font": "Noto Sans", "color": "#111111"}, "encoding": {"text": {"field": "lab"}}},
  {"data": {"name": "an"}, "transform": [{"filter": "datum.p==11 && datum.c=='s'"}], "mark": {"type": "text", "fontSize": 10, "color": "#999999", "font": "Noto Sans"}, "encoding": {"text": {"field": "lab"}}}
 ]}
]
}
],
"config": {
 "view": {"stroke": "#4a7bd0", "strokeWidth": 1.5, "fill": "#ffffff"},
 "title": {"anchor": "start", "frame": "group", "offset": -12, "fontSize": 10.2, "fontWeight": "normal", "font": "Noto Sans CJK JP", "color": "#111111", "dx": 3},
 "axisY": {"domain": false, "grid": false, "tickSize": 4, "tickColor": "#555555", "labelFontSize": 11, "labelColor": "#333333", "labelFont": "Noto Sans", "labelPadding": 2, "titleAngle": 0, "titleAlign": "left", "titleBaseline": "middle", "titleX": -31, "titleY": 10, "titleFontSize": 11, "titleFontWeight": "normal", "titleColor": "#333333", "titleFont": "Noto Sans"},
 "axisX": {"domain": false, "grid": false, "tickSize": 4, "tickColor": "#555555", "labelFontSize": 10.5, "labelPadding": -5, "labelColor": "#333333", "labelFont": "Noto Sans", "titleFontSize": 10.5, "titleFont": "Noto Sans CJK JP", "titleFontWeight": "normal", "titleColor": "#333333", "titlePadding": 1}
}
}
